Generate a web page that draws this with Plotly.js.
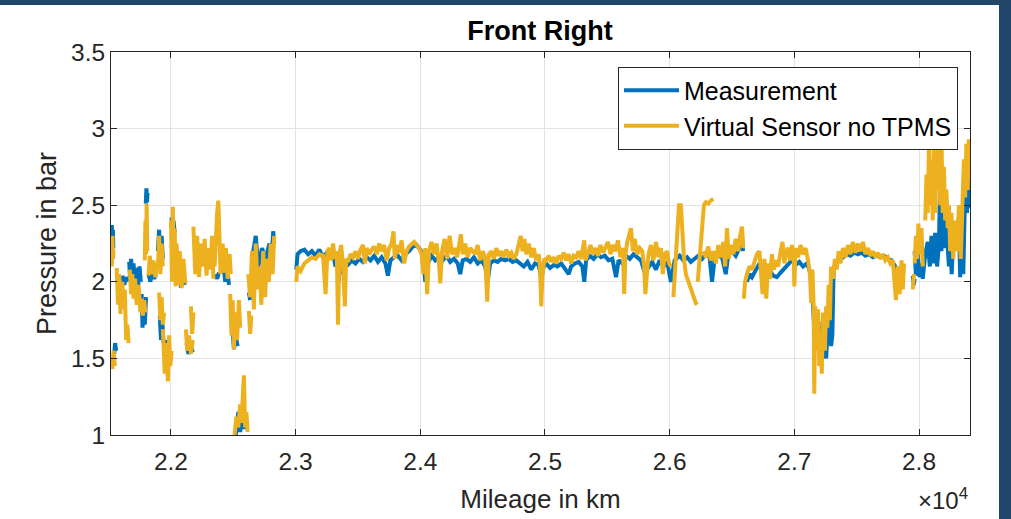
<!DOCTYPE html>
<html>
<head>
<meta charset="utf-8">
<script src="https://cdn.plot.ly/plotly-3.0.1.min.js"></script>
<style>
html,body{margin:0;padding:0;background:#22466a;width:1011px;height:519px;overflow:hidden;}
#chart{position:absolute;left:0;top:5px;width:999px;height:514px;background:#fff;}
</style>
</head>
<body>
<div id="chart"></div>
<script>
// Mileage in km, pressure in bar; null separates recorded pieces
const measurement = [
[21522,2.30],[21526,2.37],[21530,2.20],[21534,2.34],[21538,2.22],null,
[21545,1.53],[21552,1.60],[21560,1.55],null,
[21610,2.04],[21625,1.98],[21640,2.03],[21655,2.00],null,
[21665,2.13],[21672,2.02],[21680,2.15],[21690,2.05],[21700,2.12],[21710,1.98],[21722,2.09],[21735,1.95],[21748,2.10],[21758,2.00],null,
[21765,1.92],[21772,1.70],[21780,1.88],[21790,1.72],[21800,1.90],null,
[21798,2.51],[21803,2.61],[21808,2.52],[21812,2.58],null,
[21820,2.05],[21835,2.00],[21850,2.08],[21865,2.02],[21880,2.05],null,
[21895,2.20],[21905,2.34],[21915,2.10],[21925,2.30],[21935,2.15],null,
[21910,1.78],[21920,1.62],[21930,1.75],[21940,1.60],null,
[21955,1.62],[21965,1.55],[21975,1.60],null,
[22005,2.42],[22012,2.30],[22020,2.40],[22030,2.32],null,
[22045,2.18],[22055,1.98],[22065,2.10],[22080,1.96],[22095,2.05],[22110,1.98],null,
[22125,1.60],[22140,1.53],[22160,1.58],[22175,1.54],null,
[22190,2.10],[22210,2.20],[22230,2.17],[22250,2.21],[22270,2.17],[22290,2.20],[22310,2.18],[22330,2.21],[22345,2.12],null,
[22355,2.05],[22370,2.02],[22385,2.06],null,
[22420,2.12],[22435,2.00],[22450,2.10],[22465,1.98],null,
[22490,1.72],[22505,1.56],[22520,1.64],[22535,1.58],null,
[22520,1.00],[22540,1.15],[22555,1.02],[22570,1.12],[22585,1.04],[22600,1.10],null,
[22625,1.93],[22635,1.88],null,
[22650,2.15],[22680,2.30],[22700,2.10],[22730,2.22],[22760,2.15],[22790,2.25],[22810,2.18],[22820,2.33],[22828,2.25],null,
[23005,2.08],[23015,2.18],[23040,2.20],[23070,2.21],[23100,2.18],[23130,2.20],[23160,2.17],[23190,2.21],[23220,2.16],[23250,2.19],[23280,2.15],[23300,2.18],[23320,2.10],[23335,2.17],[23345,2.00],[23355,2.12],[23380,2.05],[23395,2.10],[23420,2.11],[23450,2.14],[23480,2.12],[23510,2.15],[23540,2.13],[23570,2.16],[23600,2.14],[23630,2.17],[23660,2.13],[23690,2.16],[23720,2.12],[23740,2.04],[23760,2.14],[23790,2.16],[23820,2.17],[23850,2.14],[23880,2.18],[23910,2.20],[23940,2.23],[23970,2.24],[24000,2.21],[24020,2.17],[24040,2.00],[24060,2.12],[24090,2.17],[24120,2.14],[24150,2.16],[24180,2.14],[24210,2.17],[24240,2.13],[24270,2.15],[24300,2.12],[24320,2.05],[24340,2.14],[24370,2.15],[24400,2.13],[24430,2.16],[24460,2.12],[24490,2.14],[24520,2.10],[24540,2.00],[24560,2.12],[24590,2.14],[24620,2.13],[24650,2.15],[24680,2.14],[24710,2.15],[24740,2.13],[24770,2.14],[24800,2.12],[24830,2.10],[24860,2.13],[24890,2.08],[24920,2.12],[24950,2.11],[24970,2.02],[24990,2.10],[25010,2.12],[25040,2.09],[25070,2.11],[25100,2.10],[25130,2.12],[25160,2.08],[25190,2.05],[25210,2.10],[25240,2.12],[25270,2.13],[25300,2.10],[25315,2.00],[25330,2.14],[25360,2.17],[25390,2.15],[25420,2.18],[25450,2.16],[25480,2.17],[25510,2.14],[25540,2.15],[25570,2.03],[25590,2.14],[25620,2.12],[25650,2.17],[25680,2.15],[25710,2.18],[25740,2.16],[25770,2.14],[25800,2.06],[25830,2.10],[25860,2.13],[25890,2.08],[25920,2.14],[25950,2.10],[25980,2.13],[26010,2.00],[26040,2.14],[26080,2.17],[26110,2.14],[26140,2.16],[26170,2.13],[26200,2.15],[26230,2.17],[26260,2.15],[26290,2.18],[26320,2.16],[26340,2.00],[26360,2.15],[26390,2.17],[26420,2.16],[26450,2.05],[26470,2.18],[26500,2.20],[26530,2.17],[26560,2.22],[26580,2.30],[26588,2.20],null,
[26620,2.00],[26640,2.05],[26660,2.03],[26690,2.08],[26720,2.12],[26740,2.06],[26760,2.10],[26780,2.05],[26800,2.08],[26830,2.04],[26860,2.03],[26890,2.06],[26920,2.09],[26950,2.12],[26980,2.14],[27010,2.11],[27040,2.13],[27070,2.10],[27100,2.12],[27120,2.08],[27140,2.02],[27165,1.60],[27175,1.76],[27185,1.56],[27195,1.70],[27210,1.52],[27225,1.74],[27240,1.60],[27255,1.50],[27270,1.72],[27285,1.77],[27295,1.58],[27305,1.65],[27315,2.08],[27330,2.12],[27360,2.14],[27390,2.16],[27420,2.18],[27450,2.17],[27480,2.19],[27510,2.18],[27540,2.19],[27570,2.17],[27600,2.18],[27630,2.16],[27660,2.17],[27690,2.16],[27720,2.17],[27750,2.15],[27780,2.14],[27810,2.10],[27830,2.04],[27850,2.08],[27870,2.05],null,
[27950,2.04],[27958,1.98],[27966,2.02],null,
[27965,2.20],[27975,2.04],[27990,2.18],[28005,2.03],[28020,2.12],[28030,2.02],[28050,2.18],[28070,2.26],[28087,2.10],[28100,2.30],[28115,2.12],[28130,2.32],[28145,2.10],[28160,2.25],[28170,2.70],[28180,2.20],[28190,2.66],[28200,2.22],[28215,2.60],[28225,2.30],[28240,2.10],[28250,2.28],[28262,2.05],[28275,2.30],[28290,2.38],[28305,2.30],[28320,2.42],[28330,2.03],[28340,2.40],[28355,2.05],[28365,2.42],[28375,2.75],[28385,2.45],[28395,2.72],[28405,2.48]
];

const virtualSensor = [
[21520,2.25],[21525,2.10],[21530,2.30],[21535,2.15],[21540,2.20],null,
[21530,1.43],[21540,1.55],[21550,1.45],null,
[21565,2.09],[21575,1.85],[21585,2.05],[21595,1.79],null,
[21610,2.00],[21620,1.82],[21630,1.95],[21640,1.62],[21650,1.72],[21660,1.60],null,
[21670,2.08],[21680,1.92],[21690,2.05],[21700,1.89],[21712,2.02],[21725,1.85],[21740,1.98],[21755,1.80],null,
[21765,1.89],[21775,1.78],[21785,1.88],[21795,1.80],null,
[21790,2.14],[21795,2.40],[21800,2.18],[21805,2.51],[21810,2.20],null,
[21820,2.04],[21830,2.17],[21845,2.05],[21860,2.14],[21875,2.03],[21890,2.12],null,
[21895,2.08],[21905,2.30],[21915,2.05],[21925,2.25],[21935,2.10],null,
[21905,1.93],[21915,1.75],[21925,1.90],[21935,1.72],[21945,1.80],null,
[21935,1.69],[21950,1.40],[21965,1.60],[21975,1.35],[21985,1.65],[21995,1.45],[22005,1.55],null,
[22000,2.40],[22008,2.00],[22015,2.49],[22022,2.05],[22030,2.35],[22038,1.97],null,
[22045,2.25],[22055,1.98],[22070,2.20],[22085,1.96],[22100,2.15],[22115,1.99],null,
[22120,1.69],[22130,1.55],[22145,1.65],[22160,1.53],[22175,1.62],null,
[22160,1.84],[22170,1.66],[22180,1.80],null,
[22180,2.36],[22195,2.05],[22210,2.30],[22225,2.03],[22240,2.25],[22255,2.10],[22270,2.28],[22285,2.04],[22300,2.22],[22315,2.08],[22330,2.30],[22340,2.02],null,
[22350,2.10],[22360,2.30],[22370,2.45],[22380,2.53],[22390,2.20],[22398,2.05],null,
[22415,2.25],[22425,2.06],[22440,2.22],[22455,2.02],[22470,2.18],[22480,2.05],null,
[22475,1.92],[22485,1.65],[22495,1.88],[22505,1.56],[22515,1.80],[22530,1.62],[22545,1.88],[22555,1.70],null,
[22510,1.00],[22525,1.12],[22540,1.05],[22555,1.20],[22565,1.08],[22575,1.30],[22585,1.39],[22595,1.05],[22605,1.15],[22615,1.02],null,
[22625,1.81],[22635,1.66],[22645,1.78],null,
[22620,2.05],[22635,1.90],[22650,2.20],[22665,1.82],[22680,2.25],[22695,1.95],[22710,2.10],[22725,1.85],[22740,2.20],[22755,1.90],[22770,2.15],[22785,2.00],[22800,2.25],[22815,2.05],[22828,2.30],null,
[23005,2.00],[23015,2.10],[23040,2.07],[23070,2.12],[23100,2.14],[23130,2.16],[23160,2.15],[23190,2.18],[23220,2.17],[23240,1.92],[23255,2.20],[23270,2.22],[23285,2.14],[23300,2.25],[23315,2.15],[23330,2.20],[23340,1.72],[23350,2.18],[23365,2.24],[23380,2.10],[23395,1.84],[23405,2.15],[23420,2.13],[23440,2.18],[23460,2.16],[23480,2.20],[23500,2.15],[23520,2.21],[23540,2.24],[23555,2.12],[23570,2.22],[23590,2.18],[23610,2.21],[23630,2.23],[23650,2.18],[23670,2.25],[23690,2.20],[23710,2.24],[23730,2.14],[23750,2.22],[23770,2.25],[23785,2.33],[23795,2.15],[23810,2.24],[23830,2.19],[23850,2.27],[23870,2.12],[23890,2.20],[23910,2.23],[23930,2.25],[23950,2.26],[23970,2.24],[23990,2.22],[24010,2.18],[24025,2.05],[24040,2.22],[24055,1.92],[24070,2.20],[24090,2.26],[24110,2.18],[24130,2.25],[24150,2.12],[24160,1.99],[24175,2.20],[24195,2.28],[24215,2.15],[24235,2.30],[24255,2.18],[24275,2.22],[24295,2.16],[24315,2.24],[24325,2.31],[24340,2.18],[24360,2.25],[24380,2.16],[24400,2.22],[24420,2.20],[24440,2.18],[24460,2.24],[24480,2.14],[24500,2.20],[24520,2.16],[24537,1.87],[24550,2.18],[24570,2.20],[24590,2.15],[24610,2.22],[24630,2.17],[24650,2.20],[24670,2.16],[24690,2.21],[24710,2.17],[24730,2.19],[24750,2.15],[24770,2.18],[24790,2.24],[24805,2.30],[24820,2.20],[24835,2.28],[24850,2.18],[24870,2.25],[24890,2.16],[24910,2.22],[24930,2.14],[24950,2.18],[24960,2.10],[24970,1.84],[24980,2.05],[24995,2.15],[25010,2.14],[25030,2.17],[25050,2.13],[25070,2.16],[25090,2.12],[25110,2.17],[25130,2.15],[25150,2.19],[25170,2.14],[25190,2.18],[25210,2.12],[25230,2.17],[25250,2.16],[25270,2.20],[25290,2.15],[25305,2.22],[25315,2.27],[25325,2.14],[25345,2.20],[25365,2.24],[25385,2.18],[25405,2.22],[25425,2.17],[25445,2.24],[25465,2.19],[25485,2.23],[25505,2.26],[25525,2.18],[25545,2.24],[25565,2.20],[25585,2.27],[25605,2.16],[25625,2.22],[25635,1.92],[25645,2.18],[25660,2.26],[25675,2.30],[25690,2.35],[25705,2.20],[25720,2.28],[25740,2.18],[25760,2.22],[25780,2.20],[25795,2.10],[25805,1.92],[25815,2.06],[25830,2.18],[25850,2.24],[25870,2.14],[25890,2.26],[25910,2.16],[25930,2.22],[25945,2.05],[25960,2.18],[25980,2.20],[25995,2.12],[26010,2.10],null,
[26030,1.90],[26045,2.10],[26060,2.35],[26075,2.50],[26090,2.50],[26100,2.35],[26115,2.15],[26130,2.05],[26150,2.00],[26170,1.95],[26190,1.90],[26210,1.86],[26220,1.85],null,
[26225,2.00],[26240,2.15],[26255,2.35],[26265,2.45],[26275,2.50],[26290,2.52],[26310,2.51],[26330,2.53],[26350,2.54],null,
[26270,2.20],[26290,2.16],[26310,2.23],[26330,2.14],[26350,2.20],[26370,2.12],[26390,2.24],[26410,2.16],[26430,2.26],[26445,2.10],[26460,2.35],[26475,2.15],[26490,2.24],[26510,2.18],[26530,2.28],[26550,2.20],[26565,2.30],[26580,2.36],[26590,2.22],null,
[26595,1.89],[26605,2.00],[26620,2.05],[26640,2.10],[26660,2.08],[26680,2.14],[26700,2.18],[26720,2.20],[26730,2.10],[26745,1.92],[26760,2.15],[26775,1.89],[26790,2.12],[26805,2.02],[26820,2.18],[26835,2.08],[26850,2.14],[26870,2.10],[26890,2.20],[26905,2.26],[26920,2.12],[26935,2.20],[26950,2.22],[26965,2.14],[26980,2.24],[26995,2.18],[27000,1.97],[27010,2.22],[27030,2.16],[27050,2.24],[27070,2.18],[27090,2.22],[27110,2.14],[27125,2.05],[27135,1.86],[27145,2.08],[27155,1.84],[27160,1.27],[27168,1.84],[27178,1.60],[27190,1.82],[27200,1.45],[27210,1.65],[27220,1.40],[27230,1.80],[27245,1.55],[27255,1.84],[27265,1.70],[27275,1.98],[27285,1.75],[27295,2.10],[27310,2.02],[27325,2.15],[27340,2.08],[27355,2.20],[27370,2.12],[27390,2.22],[27410,2.16],[27430,2.24],[27450,2.18],[27470,2.26],[27490,2.19],[27510,2.25],[27530,2.20],[27550,2.26],[27570,2.18],[27590,2.22],[27610,2.17],[27630,2.20],[27650,2.16],[27670,2.19],[27690,2.15],[27710,2.18],[27730,2.14],[27750,2.16],[27770,2.12],[27790,2.14],[27800,2.00],[27815,1.88],[27830,2.10],[27845,1.92],[27860,2.14],[27870,1.95],[27880,2.12],null,
[27950,1.95],[27960,2.05],null,
[27965,2.12],[27975,2.30],[27985,2.15],[27995,2.38],[28005,2.18],[28020,2.35],[28030,2.10],null,
[28050,2.40],[28060,2.70],[28070,2.45],[28080,2.90],[28090,2.50],[28100,2.80],[28110,2.40],[28120,2.93],[28130,2.45],[28140,2.93],[28150,2.60],[28160,2.93],[28170,2.50],[28180,2.93],[28190,2.45],[28200,2.75],[28210,2.40],[28220,2.60],[28230,2.35],[28240,2.50],[28250,2.20],[28260,2.45],[28275,2.15],[28290,2.40],[28305,2.20],[28320,2.50],[28335,2.15],[28350,2.45],[28360,2.80],[28370,2.55],[28380,2.90],[28390,2.60],[28400,2.93],[28408,2.70]
];

const xTickVals = [22000,23000,24000,25000,26000,27000,28000];
const xTickText = ['2.2','2.3','2.4','2.5','2.6','2.7','2.8'];
const yTickVals = [1,1.5,2,2.5,3,3.5];
const yTickText = ['1','1.5','2','2.5','3','3.5'];

const px = a => a.map(p => p ? p[0] : null);
const py = a => a.map(p => p ? p[1] : null);
const txt = '#262626';
const F = 'Liberation Sans, Arial, sans-serif';

const data = [
  {x: px(measurement), y: py(measurement), type:'scatter', mode:'lines', name:'Measurement',
   line:{color:'#0072BD', width:4}, connectgaps:false},
  {x: px(virtualSensor), y: py(virtualSensor), type:'scatter', mode:'lines', name:'Virtual Sensor no TPMS',
   line:{color:'#EDB120', width:4}, connectgaps:false}
];

const layout = {
  width: 999, height: 514,
  margin: {l:111, r:29, t:47, b:84},
  paper_bgcolor:'#ffffff', plot_bgcolor:'#ffffff',
  font: {family:F, color:txt, size:24},
  title: {text:'<b>Front Right</b>', font:{family:F, size:27, color:'#000'}, x:0.5405, xanchor:'center', y:0.951, yref:'container', yanchor:'middle'},
  xaxis: {range:[21519,28409], tickvals:xTickVals, ticktext:xTickText, ticks:'inside', ticklen:6,
    tickcolor:txt, showline:true, linecolor:txt, linewidth:1, mirror:'ticks', showgrid:true,
    gridcolor:'#e3e3e3', zeroline:false, tickfont:{size:24.5, color:txt}, ticklabelstandoff:5,
    title:{text:'Mileage in km', font:{size:26, color:txt}, standoff:15}},
  yaxis: {range:[1,3.5], tickvals:yTickVals, ticktext:yTickText, ticks:'inside', ticklen:6,
    tickcolor:txt, showline:true, linecolor:txt, linewidth:1, mirror:'ticks', showgrid:true,
    gridcolor:'#e3e3e3', zeroline:false, tickfont:{size:24.5, color:txt},
    title:{text:'Pressure in bar', font:{size:27, color:txt}, standoff:6}},
  legend: {x:0.986, y:0.962, xanchor:'right', yanchor:'top', bgcolor:'#fff', bordercolor:txt, borderwidth:1,
    font:{size:25, color:'#000'}, tracegroupgap:0, itemwidth:55},
  showlegend:true,
  annotations: [{text:'×10<sup>4</sup>', xref:'paper', yref:'paper', x:1.0, y:-0.168, xanchor:'right', yanchor:'middle',
    showarrow:false, font:{size:24, color:txt}}]
};

Plotly.newPlot('chart', data, layout, {staticPlot:true, displayModeBar:false});
</script>
</body>
</html>
